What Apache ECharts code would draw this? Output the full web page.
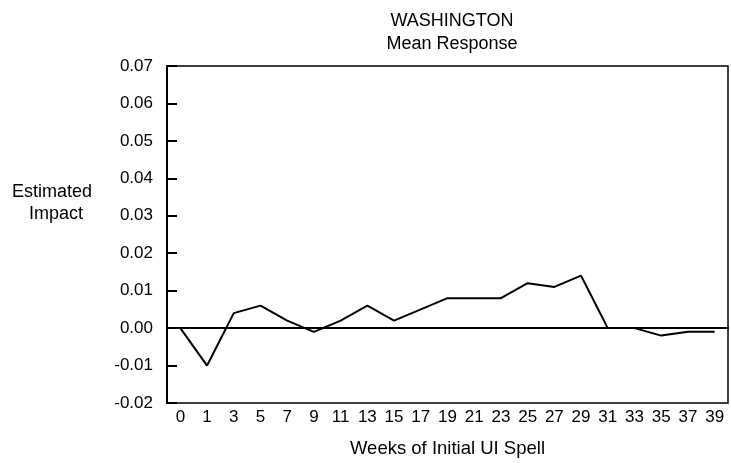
<!DOCTYPE html>
<html>
<head>
<meta charset="utf-8">
<script src="https://cdn.jsdelivr.net/npm/echarts@6/dist/echarts.min.js"></script>
<style>
  html, body { margin: 0; padding: 0; background: #fff; }
  #chart { width: 731px; height: 463px; }
</style>
</head>
<body>
<div id="chart"></div>
<script>
// weeks shown on the axis
const weeks = ['0', '1', '3', '5', '7', '9', '11', '13', '15', '17', '19', '21', '23', '25', '27', '29', '31', '33', '35', '37', '39']
// estimated impact (mean response)
const impact = [0.0, -0.010, 0.004, 0.006, 0.002, -0.001, 0.002, 0.006, 0.002, 0.005, 0.008, 0.008, 0.008, 0.012, 0.011, 0.014, 0.0, 0.0, -0.002, -0.001, -0.001]

const font = 'Liberation Sans, Arial, sans-serif'
const chart = echarts.init(document.getElementById('chart'))

chart.setOption({
  animation: false,
  title: {
    text: 'WASHINGTON\nMean Response',
    left: 447, top: 5, textAlign: 'center',
    textStyle: { fontFamily: font, fontSize: 18, fontWeight: 'normal', color: '#000', lineHeight: 23 },
  },
  graphic: [
    { type: 'text', x: 92, y: 192, style: { text: 'Estimated', align: 'right', verticalAlign: 'middle', fill: '#000', font: '18px ' + font } },
    { type: 'text', x: 83, y: 214, style: { text: 'Impact', align: 'right', verticalAlign: 'middle', fill: '#000', font: '18px ' + font } },
  ],
  grid: { left: 167, right: 3, top: 66, bottom: 60, show: true, borderColor: '#000', borderWidth: 1.5, backgroundColor: 'transparent' },
  xAxis: {
    type: 'category', data: weeks, boundaryGap: true,
    name: 'Weeks of Initial UI Spell', nameLocation: 'middle', nameGap: 36,
    nameTextStyle: { fontFamily: font, fontSize: 18.5, color: '#000' },
    axisLine: { lineStyle: { color: '#000', width: 2 } },
    axisTick: { inside: true, length: 10, alignWithLabel: true, lineStyle: { color: '#000', width: 2 } },
    axisLabel: { fontFamily: font, fontSize: 17, color: '#000', margin: 6, interval: 0 },
  },
  yAxis: {
    type: 'value', min: -0.02, max: 0.07, interval: 0.01,
    axisLine: { show: true, lineStyle: { color: '#000', width: 2 } },
    axisTick: { show: true, inside: true, length: 10, lineStyle: { color: '#000', width: 2 } },
    axisLabel: { fontFamily: font, fontSize: 17, color: '#000', margin: 14, formatter: v => v.toFixed(2) },
    splitLine: { show: false },
  },
  series: [{
    type: 'line', data: impact, symbol: 'none',
    lineStyle: { color: '#000', width: 2 },
    markLine: {
      silent: true, symbol: 'none', label: { show: false },
      lineStyle: { color: '#000', width: 1.5, type: 'solid' },
      data: [{ yAxis: 0 }],
    },
  }],
})
</script>
</body>
</html>
